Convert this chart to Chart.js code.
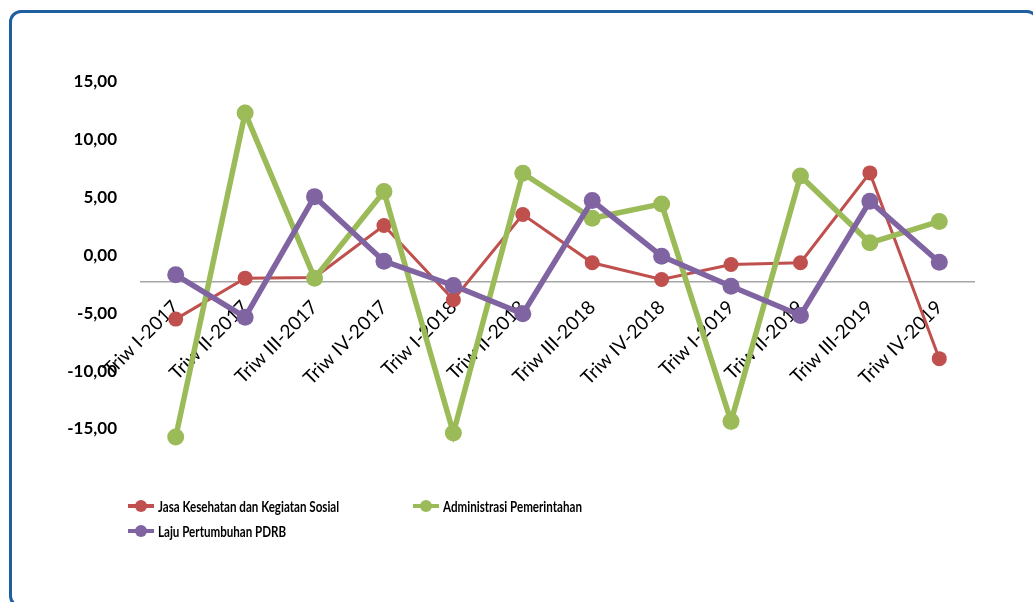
<!DOCTYPE html>
<html>
<head>
<meta charset="utf-8">
<script src="https://cdn.jsdelivr.net/npm/chart.js@4.4.1/dist/chart.umd.min.js"></script>
<style>
  html, body { margin: 0; padding: 0; background: #fff; overflow: hidden; }
  #wrap { position: relative; width: 1033px; height: 602px; }
  #chart { position: absolute; left: 0; top: 0; }
  #frame {
    position: absolute; left: 9px; top: 10px; width: 1030px; height: 598px;
    border: 3px solid #1F5F9F; border-radius: 12px; box-sizing: border-box;
    pointer-events: none;
  }
  #legend {
    position: absolute; left: 128px; top: 495px;
    display: grid; grid-template-columns: 285px auto; row-gap: 3px;
    font: bold 11.6px Lato, sans-serif; color: #000;
  }
  .item { display: flex; align-items: center; height: 22px; white-space: nowrap; }
  .item canvas { margin-right: 4px; }
  .item span { display: inline-block; transform: scaleY(1.25); transform-origin: left center; }
</style>
</head>
<body>
<div id="wrap">
  <canvas id="chart" width="1033" height="602"></canvas>
  <div id="frame"></div>
  <div id="legend"></div>
</div>
<script>
// Quarterly growth (%) per period
const categories = [
  'Triw I-2017', 'Triw II-2017', 'Triw III-2017', 'Triw IV-2017',
  'Triw I-2018', 'Triw II-2018', 'Triw III-2018', 'Triw IV-2018',
  'Triw I-2019', 'Triw II-2019', 'Triw III-2019', 'Triw IV-2019'
];
const jasaKesehatan = [-5.50, -1.96, -1.90, 2.59, -3.83, 3.54, -0.63, -2.07, -0.78, -0.63, 7.14, -8.92];
const administrasi  = [-15.69, 12.32, -1.96, 5.53, -15.34, 7.11, 3.22, 4.46, -14.34, 6.88, 1.10, 2.94];
const lajuPdrb      = [-1.67, -5.33, 5.09, -0.49, -2.59, -5.04, 4.75, -0.06, -2.65, -5.18, 4.69, -0.58];
const seriesNames = [
  'Jasa Kesehatan dan Kegiatan Sosial',
  'Administrasi Pemerintahan',
  'Laju Pertumbuhan PDRB'
];
const yTickValues = [-15, -10, -5, 0, 5, 10, 15];
const axisCross = -2.3;   // value where the category axis crosses

const RED = '#C0504D', GREEN = '#9BBB59', PURPLE = '#8064A2';

function lineSet(label, data, color, width, radius, order) {
  return {
    label, data, order,
    borderColor: color, backgroundColor: color,
    borderWidth: width,
    pointRadius: radius, pointHoverRadius: radius,
    pointBackgroundColor: color, pointBorderColor: color, pointBorderWidth: 0,
    tension: 0, clip: false
  };
}

const chart = new Chart(document.getElementById('chart'), {
  type: 'line',
  data: {
    labels: categories,
    datasets: [
      lineSet(seriesNames[0], jasaKesehatan, RED, 3, 7.5, 3),
      lineSet(seriesNames[1], administrasi, GREEN, 5.5, 8.5, 2),
      lineSet(seriesNames[2], lajuPdrb, PURPLE, 5.5, 8.5, 1)
    ]
  },
  options: {
    responsive: false,
    animation: false,
    layout: { padding: { left: 0, right: 59, top: 82, bottom: 173 } },
    plugins: { legend: { display: false }, tooltip: { enabled: false } },
    scales: {
      x: {
        position: { y: axisCross },
        offset: true,
        grid: { display: false, drawTicks: false },
        border: { display: true, color: '#A6A6A6', width: 1.5 },
        ticks: {
          autoSkip: false, minRotation: 45, maxRotation: 45, padding: 14,
          color: '#000', font: { family: 'Lato', size: 19 }
        },
        afterFit(scale) { scale.height = 0; }
      },
      y: {
        min: yTickValues[0], max: yTickValues[yTickValues.length - 1],
        grid: { display: false, drawTicks: false },
        border: { display: false },
        afterBuildTicks(scale) { scale.ticks = yTickValues.map(v => ({ value: v })); },
        ticks: {
          padding: 24, color: '#000',
          font: { family: 'Lato', size: 17, weight: 'bold' },
          callback: v => v.toFixed(2).replace('.', ',')
        },
        afterFit(scale) { scale.width = 141; }
      }
    }
  }
});

// Legend built from the chart's datasets (line with marker + label)
const legendEl = document.getElementById('legend');
chart.data.datasets.forEach(ds => {
  const item = document.createElement('div');
  item.className = 'item';
  const icon = document.createElement('canvas');
  icon.width = 26; icon.height = 14;
  const c = icon.getContext('2d');
  c.strokeStyle = ds.borderColor; c.lineWidth = 4;
  c.beginPath(); c.moveTo(0, 7); c.lineTo(26, 7); c.stroke();
  c.fillStyle = ds.borderColor;
  c.beginPath(); c.arc(13, 7, 6, 0, Math.PI * 2); c.fill();
  const txt = document.createElement('span');
  txt.textContent = ds.label;
  item.appendChild(icon); item.appendChild(txt);
  legendEl.appendChild(item);
});
</script>
</body>
</html>
